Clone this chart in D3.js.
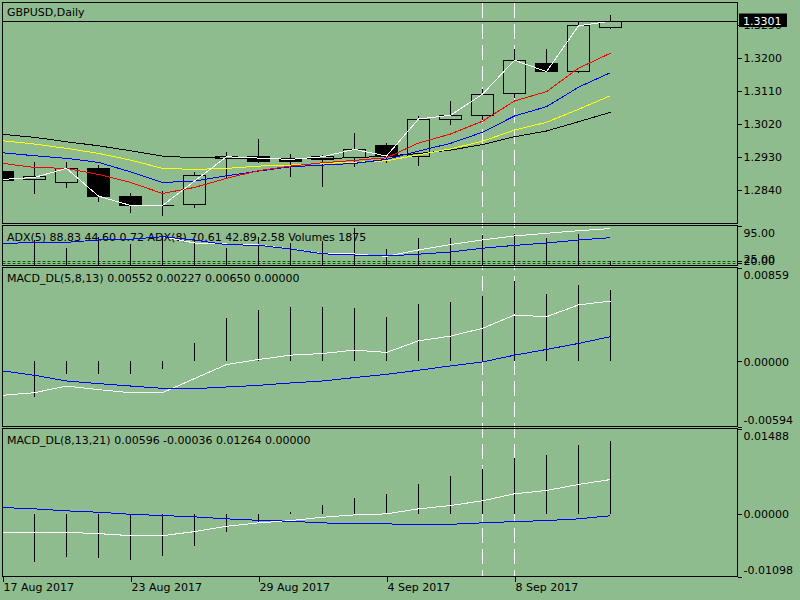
<!DOCTYPE html>
<html><head><meta charset="utf-8">
<script src="https://cdn.jsdelivr.net/npm/d3@7"></script>
<style>
html,body{margin:0;padding:0;background:#8fbc8f;}
svg{display:block;font-family:"DejaVu Sans",sans-serif;font-size:11px;}
</style></head><body>
<svg id="c" width="800" height="600"></svg>
<script>
// ---------------- DATA ----------------
const symbolTitle = "GBPUSD,Daily";
const dates = ["2017-08-17","2017-08-18","2017-08-21","2017-08-22","2017-08-23","2017-08-24","2017-08-25",
  "2017-08-28","2017-08-29","2017-08-30","2017-08-31","2017-09-01","2017-09-04","2017-09-05","2017-09-06",
  "2017-09-07","2017-09-08","2017-09-11","2017-09-12","2017-09-13"];
const openP  = [1.28918,1.28691,1.28609,1.29000,1.28235,1.27985,1.27997,1.29266,1.29328,1.29246,1.29238,1.29282,1.29629,1.29320,1.30340,1.30441,1.31043,1.31863,1.31645,1.32848];
const highP  = [1.29000,1.29156,1.29156,1.29082,1.28308,1.28371,1.28883,1.29430,1.29807,1.29375,1.29356,1.29966,1.29676,1.30422,1.30841,1.31152,1.32254,1.32254,1.33001,1.33184];
const lowP   = [1.28590,1.28289,1.28462,1.28079,1.27778,1.27696,1.27915,1.28699,1.29137,1.28762,1.28489,1.29036,1.29129,1.29055,1.30176,1.30313,1.30923,1.31634,1.31606,1.32793];
const closeP = [1.28672,1.28762,1.28992,1.28215,1.27980,1.27980,1.28801,1.29320,1.29173,1.29192,1.29320,1.29512,1.29328,1.30340,1.30441,1.31016,1.31945,1.31645,1.32883,1.33010];
const whiteLine = [1.28691,1.28746,1.28992,1.28235,1.27980,1.27980,1.28645,1.29309,1.29274,1.29238,1.29309,1.29512,1.29328,1.30340,1.30441,1.31016,1.31945,1.31634,1.32883,1.33010];
const maRed    = [1.29129,1.29019,1.28992,1.28828,1.28609,1.28308,1.28472,1.28719,1.28932,1.29055,1.29145,1.29211,1.29282,1.29684,1.29930,1.30280,1.30832,1.31087,1.31727,1.32137];
const maBlue   = [1.29419,1.29337,1.29266,1.29156,1.28899,1.28609,1.28645,1.28790,1.28918,1.29036,1.29082,1.29129,1.29238,1.29465,1.29676,1.29979,1.30422,1.30677,1.31207,1.31606];
const maYellow = [1.29747,1.29657,1.29539,1.29402,1.29219,1.28992,1.28965,1.28992,1.29055,1.29082,1.29129,1.29156,1.29200,1.29361,1.29525,1.29733,1.30039,1.30250,1.30605,1.30977];
const maBlack  = [1.29922,1.29840,1.29719,1.29610,1.29473,1.29328,1.29282,1.29274,1.29274,1.29274,1.29266,1.29282,1.29328,1.29397,1.29492,1.29643,1.29856,1.30012,1.30266,1.30523];
const priceTicks = [1.2840,1.2930,1.3020,1.3110,1.3200,1.3290];
const priceDomain = [1.27488,1.33520];

const volumes = [15000,12670,8464,14190,10491,14545,13177,8818,14190,11352,12163,18600,7957,13430,13430,15052,15913,13430,15559,1875];
const volDomain = [0,20000];
const adx5 = [59.4,60.6,61.4,66.0,67.4,72.6,60.0,58.0,56.0,48.0,39.0,38.0,33.4,46.0,57.0,66.0,74.0,79.4,84.6,88.83];
const adx8 = [59.4,60.6,61.4,66.0,67.4,72.6,66.0,56.6,55.4,48.0,38.4,36.0,34.0,37.6,42.0,49.6,55.2,60.0,66.0,70.61];
const adxLevels = [20,25];
const adxDomain = [16.6,95];
const adxTicks = [95,25,20];
const adxLabel = "ADX(5) 88.83 44.60 0.72 ADX(8) 70.61 42.89 2.58 Volumes 1875";

const macd1Hist  = [-0.00300,-0.00325,-0.00114,-0.00114,-0.00114,-0.00068,0.00165,0.00395,0.00471,0.00496,0.00496,0.00486,0.00404,0.00526,0.00547,0.00599,0.00737,0.00618,0.00700,0.00650];
const macd1White = [-0.00309,-0.00285,-0.00224,-0.00257,-0.00285,-0.00285,-0.00156,-0.00028,0.00018,0.00058,0.00073,0.00104,0.00083,0.00189,0.00232,0.00303,0.00425,0.00409,0.00517,0.00552];
const macd1Blue  = [-0.00086,-0.00126,-0.00178,-0.00202,-0.00224,-0.00245,-0.00248,-0.00233,-0.00218,-0.00196,-0.00178,-0.00147,-0.00117,-0.00080,-0.00040,-0.00004,0.00058,0.00110,0.00165,0.00227];
const macd1Domain = [-0.00594,0.00859];
const macd1Ticks = [0.00859,0,-0.00594];
const macd1Label = "MACD_DL(5,8,13) 0.00552 0.00227 0.00650 0.00000";

const macd2Hist  = [-0.00850,-0.00852,-0.00765,-0.00782,-0.00805,-0.00747,-0.00560,-0.00314,-0.00139,0.00030,0.00160,0.00282,0.00335,0.00523,0.00651,0.00786,0.00979,0.01031,0.01194,0.01264];
const macd2White = [-0.00337,-0.00337,-0.00326,-0.00349,-0.00384,-0.00384,-0.00314,-0.00221,-0.00161,-0.00121,-0.00063,-0.00021,-0.00004,0.00084,0.00142,0.00225,0.00347,0.00405,0.00510,0.00596];
const macd2Blue  = [0.00107,0.00084,0.00049,0.00025,-0.00011,-0.00033,-0.00056,-0.00091,-0.00116,-0.00133,-0.00161,-0.00179,-0.00179,-0.00191,-0.00186,-0.00161,-0.00139,-0.00121,-0.00091,-0.00036];
const macd2Domain = [-0.01098,0.01488];
const macd2Ticks = [0.01488,0,-0.01098];
const macd2Label = "MACD_DL(8,13,21) 0.00596 -0.00036 0.01264 0.00000";

const timeTickDates  = ["2017-08-17","2017-08-23","2017-08-29","2017-09-04","2017-09-08"];
const timeTickLabels = ["17 Aug 2017","23 Aug 2017","29 Aug 2017","4 Sep 2017","8 Sep 2017"];
const markerDates = ["2017-09-07","2017-09-08"];

// ---------------- LAYOUT ----------------
const W = 800, H = 600, L = 2.5, R = 737.5;
const BG = "#8fbc8f";
const P = {
  main: {top: 2.5,   bottom: 223.5},
  adx:  {top: 225.5, bottom: 265.5},
  m1:   {top: 267.5, bottom: 426.5},
  m2:   {top: 428.5, bottom: 576.5}
};
const svg = d3.select("#c");
svg.append("rect").attr("width", W).attr("height", H).attr("fill", BG);
const defs = svg.append("defs");
Object.entries(P).forEach(([k, p]) => {
  defs.append("clipPath").attr("id", "clip-" + k)
    .append("rect").attr("x", L).attr("y", p.top).attr("width", R - L).attr("height", p.bottom - p.top);
});

const x = d3.scalePoint().domain(dates).range([2.5, 2.5 + 32 * (dates.length - 1)]);
const yMain = d3.scaleLinear().domain(priceDomain).range([P.main.bottom, P.main.top]);
const yVol  = d3.scaleLinear().domain(volDomain).range([265, 225.5]);
const yAdx  = d3.scaleLinear().domain(adxDomain).range([264.7, 225.5]);
const yM1   = d3.scaleLinear().domain(macd1Domain).range([P.m1.bottom, P.m1.top]);
const yM2   = d3.scaleLinear().domain(macd2Domain).range([P.m2.bottom, P.m2.top]);

// vertical dashed markers (background)
svg.append("g").selectAll("line").data(markerDates).join("line")
  .attr("x1", d => x(d)).attr("x2", d => x(d))
  .attr("y1", P.main.top).attr("y2", P.m2.bottom)
  .attr("stroke", "#fff").attr("stroke-dasharray", "15,6").attr("shape-rendering", "crispEdges");

function panelText(txt, ty) {
  svg.append("text").attr("x", 7).attr("y", ty).attr("dy", "0.35em").attr("fill", "#000").text(txt);
}
function drawLine(g, vals, yS, color) {
  g.append("path").datum(vals)
    .attr("d", d3.line().x((d, i) => x(dates[i])).y(d => yS(d)))
    .attr("fill", "none").attr("stroke", color).attr("stroke-width", 1)
    .attr("shape-rendering", "crispEdges");
}
function rightAxis(yS, ticks, fmt, shiftEnds) {
  const g = svg.append("g").attr("transform", `translate(${R},0)`)
    .call(d3.axisRight(yS).tickValues(ticks).tickFormat(fmt).tickSize(4).tickPadding(2));
  g.select(".domain").remove();
  g.attr("font-family", "DejaVu Sans").attr("font-size", 11).attr("color", "#000");
  g.selectAll(".tick line").attr("shape-rendering", "crispEdges");
  if (shiftEnds) {
    const [lo, hi] = yS.domain();
    g.selectAll(".tick text").attr("y", d => (d === hi ? 7.5 : (d === lo ? -7 : 0)));
  }
  return g;
}

// ---------------- MAIN PANEL ----------------
panelText(symbolTitle, 12);
const gMain = svg.append("g").attr("clip-path", "url(#clip-main)");
const gCand = gMain.append("g").attr("shape-rendering", "crispEdges");
gCand.selectAll("line").data(dates).join("line")
  .attr("x1", d => x(d)).attr("x2", d => x(d))
  .attr("y1", (d, i) => yMain(highP[i])).attr("y2", (d, i) => yMain(lowP[i]))
  .attr("stroke", "#000");
gCand.selectAll("path").data(dates).join("path")
  .attr("d", (d, i) => {
    const cx = x(d), a = yMain(openP[i]), b = yMain(closeP[i]);
    const t = Math.min(a, b), bt = Math.max(a, b);
    return `M${cx - 11},${t}H${cx + 11}V${bt}H${cx - 11}Z`;
  })
  .attr("fill", (d, i) => closeP[i] >= openP[i] ? BG : "#000")
  .attr("stroke", "#000");
drawLine(gMain, maBlack, yMain, "#000");
drawLine(gMain, maYellow, yMain, "#ffff00");
drawLine(gMain, maBlue, yMain, "#0000ff");
drawLine(gMain, maRed, yMain, "#ff0000");
drawLine(gMain, whiteLine, yMain, "#fff");
const lastPrice = closeP[closeP.length - 1];
svg.append("line").attr("x1", L).attr("x2", R)
  .attr("y1", yMain(lastPrice)).attr("y2", yMain(lastPrice))
  .attr("stroke", "#000").attr("shape-rendering", "crispEdges");
rightAxis(yMain, priceTicks, d => d.toFixed(4), false);
const py = Math.round(yMain(lastPrice));
svg.append("rect").attr("x", 739).attr("y", py - 7.5).attr("width", 48).attr("height", 13.5).attr("fill", "#000");
svg.append("text").attr("x", 743).attr("y", py).attr("dy", "0.35em").attr("fill", "#fff").text(lastPrice.toFixed(4));

// ---------------- ADX / VOLUMES PANEL ----------------
panelText(adxLabel, 237.5);
const gAdx = svg.append("g").attr("clip-path", "url(#clip-adx)");
gAdx.selectAll("line.lvl").data(adxLevels).join("line").attr("class", "lvl")
  .attr("x1", L).attr("x2", R + 4).attr("y1", d => Math.round(yAdx(d)) + 0.5).attr("y2", d => Math.round(yAdx(d)) + 0.5)
  .attr("stroke", "#006400").attr("stroke-dasharray", "3,2");
gAdx.selectAll("line.vol").data(dates).join("line").attr("class", "vol")
  .attr("x1", d => x(d)).attr("x2", d => x(d))
  .attr("y1", yVol(0)).attr("y2", (d, i) => yVol(volumes[i]))
  .attr("stroke", "#000").attr("shape-rendering", "crispEdges");
drawLine(gAdx, adx5, yAdx, "#fff");
drawLine(gAdx, adx8, yAdx, "#0000ff");
svg.append("g").selectAll("line").data(adxLevels).join("line")
  .attr("x1", R).attr("x2", R + 4).attr("y1", d => Math.round(yAdx(d)) + 0.5).attr("y2", d => Math.round(yAdx(d)) + 0.5)
  .attr("stroke", "#006400");
rightAxis(yAdx, adxTicks, d => d.toFixed(2), false)
  .selectAll(".tick text").attr("y", d => d === 95 ? 7.8 : -2);

// ---------------- MACD 1 ----------------
panelText(macd1Label, 278.5);
const gM1 = svg.append("g").attr("clip-path", "url(#clip-m1)");
gM1.selectAll("line").data(dates).join("line")
  .attr("x1", d => x(d)).attr("x2", d => x(d))
  .attr("y1", yM1(0)).attr("y2", (d, i) => yM1(macd1Hist[i]))
  .attr("stroke", "#000").attr("shape-rendering", "crispEdges");
drawLine(gM1, macd1White, yM1, "#fff");
drawLine(gM1, macd1Blue, yM1, "#0000ff");
rightAxis(yM1, macd1Ticks, d => d.toFixed(5), true);

// ---------------- MACD 2 ----------------
panelText(macd2Label, 440);
const gM2 = svg.append("g").attr("clip-path", "url(#clip-m2)");
gM2.selectAll("line").data(dates).join("line")
  .attr("x1", d => x(d)).attr("x2", d => x(d))
  .attr("y1", yM2(0)).attr("y2", (d, i) => yM2(macd2Hist[i]))
  .attr("stroke", "#000").attr("shape-rendering", "crispEdges");
drawLine(gM2, macd2White, yM2, "#fff");
drawLine(gM2, macd2Blue, yM2, "#0000ff");
rightAxis(yM2, macd2Ticks, d => d.toFixed(5), true);

// ---------------- FRAMES ----------------
Object.values(P).forEach(p => {
  svg.append("rect").attr("x", L).attr("y", p.top).attr("width", R - L).attr("height", p.bottom - p.top)
    .attr("fill", "none").attr("stroke", "#000").attr("shape-rendering", "crispEdges");
});

// ---------------- TIME AXIS ----------------
const labelOf = new Map(timeTickDates.map((d, i) => [d, timeTickLabels[i]]));
const gx = svg.append("g").attr("transform", `translate(0,${P.m2.bottom})`)
  .call(d3.axisBottom(x).tickValues(timeTickDates).tickFormat(d => labelOf.get(d)).tickSize(5).tickPadding(2));
gx.select(".domain").remove();
gx.attr("font-family", "DejaVu Sans").attr("font-size", 11).attr("color", "#000");
gx.selectAll(".tick line").attr("shape-rendering", "crispEdges");
gx.selectAll(".tick text").attr("text-anchor", "start").attr("x", 0.5);
</script>
</body></html>
